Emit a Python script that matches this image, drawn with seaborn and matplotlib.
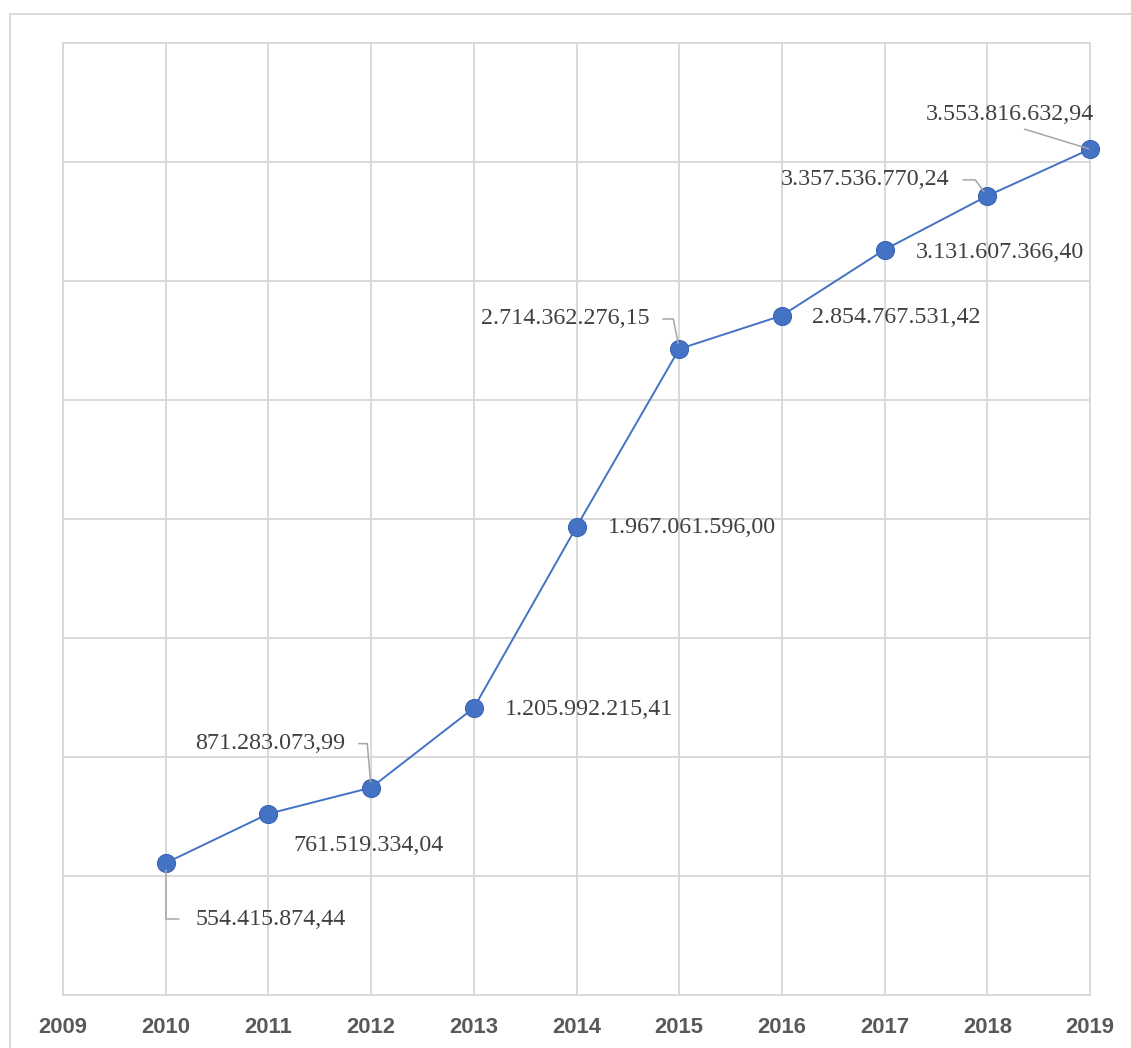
import matplotlib
matplotlib.use("Agg")
import matplotlib.pyplot as plt
import matplotlib.patches as mpatches
import seaborn as sns
import pandas as pd
import numpy as np

# ---- data ----
years = [2010, 2011, 2012, 2013, 2014, 2015, 2016, 2017, 2018, 2019]
values = [554415874.44, 761519334.04, 871283073.99, 1205992215.41, 1967061596.00,
          2714362276.15, 2854767531.42, 3131607366.40, 3357536770.24, 3553816632.94]
labels = ["554.415.874,44", "761.519.334,04", "871.283.073,99", "1.205.992.215,41",
          "1.967.061.596,00", "2.714.362.276,15", "2.854.767.531,42", "3.131.607.366,40",
          "3.357.536.770,24", "3.553.816.632,94"]
xtick_years = list(range(2009, 2020))

# label placement (offset pixels from point, alignment, leader style, leader angle at point)
placements = [
    (30, -56, "left", "down", 90),
    (25, -32, "left", None, None),
    (-26, 44, "right", "left", 95),
    (31, -2, "left", None, None),
    (31, -1, "left", None, None),
    (-30, 30, "right", "left", 101),
    (30, -2, "left", None, None),
    (31, -3, "left", None, None),
    (-38, 16, "right", "left", 127),
    (-80, 35, "center", "top", None),
]

sns.set_theme(style="white")
plt.rcParams["font.family"] = ["Liberation Serif", "DejaVu Sans"]

W, H, DPI = 1131, 1048, 100
fig = plt.figure(figsize=(W / DPI, H / DPI), dpi=DPI)
ax = fig.add_axes([63 / W, 1 - 995 / H, (1090 - 63) / W, (995 - 43) / H])

df = pd.DataFrame({"year": years, "value": values})
blue = "#4472C4"
sns.lineplot(data=df, x="year", y="value", ax=ax, color=blue, linewidth=1.4,
             marker="o", markersize=13, markerfacecolor=blue,
             markeredgecolor="#3B65B5", markeredgewidth=0.8, zorder=5)
for ln in ax.lines:
    ln.set_clip_on(False)

ax.set_xlim(2009, 2019)
ax.set_ylim(0, 4.0e9)
ax.set_xticks(xtick_years)
ax.set_xticklabels([str(y) for y in xtick_years], fontfamily="Liberation Sans",
                   fontweight="bold", fontsize=15.8, color="#595959")
ax.set_yticks(np.arange(0, 4.0e9 + 1, 5e8))
ax.set_yticklabels([])
ax.tick_params(axis="both", length=0)
ax.tick_params(axis="x", pad=16)
ax.grid(True, color="#D9D9D9", linewidth=1.4)
ax.set_axisbelow(True)
for s in ax.spines.values():
    s.set_color("#D9D9D9")
    s.set_linewidth(1.4)
ax.set_xlabel("")
ax.set_ylabel("")

lead_col = "#A6A6A6"
for x, y, lab, (dx, dy, ha, leader, angB) in zip(years, values, labels, placements):
    kw = {}
    if leader == "down":
        kw = dict(arrowprops=dict(arrowstyle="-", color=lead_col, lw=1.1,
                                  connectionstyle=f"angle,angleA=0,angleB={angB},rad=0",
                                  relpos=(0, 0.5), shrinkA=10, shrinkB=5))
    elif leader == "left":
        kw = dict(arrowprops=dict(arrowstyle="-", color=lead_col, lw=1.1,
                                  connectionstyle=f"angle,angleA=0,angleB={angB},rad=0",
                                  relpos=(1, 0.5), shrinkA=7.5, shrinkB=4))
    elif leader == "top":
        kw = dict(arrowprops=dict(arrowstyle="-", color=lead_col, lw=1.1,
                                  relpos=(0.5, 0), shrinkA=3, shrinkB=1))
    ax.annotate(lab, xy=(x, y), xytext=(dx, dy), textcoords="offset pixels",
                ha=ha, va="center", fontsize=17.3, color="#404040",
                fontfamily="Liberation Serif", zorder=6, annotation_clip=False, **kw)

# outer chart frame
frame = mpatches.Rectangle((9.5 / W, -0.1), 1.2, 1 - 14 / H + 0.1,
                           transform=fig.transFigure, fill=False,
                           edgecolor="#D9D9D9", linewidth=1.4, clip_on=False)
fig.add_artist(frame)

fig.savefig("out.png", dpi=DPI, facecolor="white")
